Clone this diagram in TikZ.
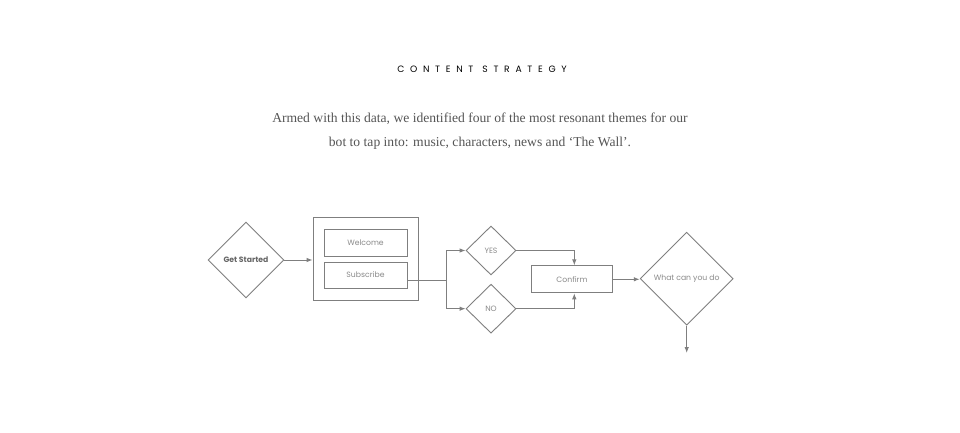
\documentclass[tikz,border=0pt]{standalone}
\usepackage{fontspec}
\setmainfont{Liberation Serif}
\newfontfamily\pop{Poppins}
\newfontfamily\poptitle[LetterSpace=62]{Poppins}
\usetikzlibrary{shapes.geometric,arrows.meta}
\definecolor{ln}{HTML}{7F7F7F}
\definecolor{tx}{HTML}{8A8A8A}
\definecolor{body}{HTML}{555555}
\tikzset{
  shp/.style={draw=ln, line width=0.9pt, inner sep=0pt, font=\pop\fontsize{7.7}{9}\selectfont, text=tx},
  dia/.style={shp, diamond, aspect=1},
  box/.style={shp, rectangle},
  conn/.style={draw=ln, line width=0.9pt},
  arr/.style={conn, -{Latex[length=6pt,width=4.5pt]}},
}
\begin{document}
\begin{tikzpicture}[x=1pt,y=-1pt]
\useasboundingbox[fill=white] (0,0) rectangle (960,433);
\node[font=\poptitle\fontsize{9.2}{10}\selectfont, text=black] (title) at (482,69) {CONTENT\hspace*{9pt}STRATEGY};
\node[font=\fontsize{13.6}{16}\selectfont, text=body] (l1) at (480,118.5) {Armed with this data, we identified four of the most resonant themes for our};
\node[font=\fontsize{13.6}{16}\selectfont, text=body] (l2) at (480,143.5) {bot to tap into: music, characters, news and ‘The Wall’.};

\node[dia, minimum width=76, minimum height=76, text=black!60] (gs) at (246,260) {\bfseries Get Started};
\node[box, minimum width=105, minimum height=83] (outer) at (365.5,258.5) {};
\node[box, minimum width=83, minimum height=27] (wel) at (365.5,242.5) {Welcome};
\node[box, minimum width=83, minimum height=26] (sub) at (365.5,275) {Subscribe};
\node[dia, minimum width=50, minimum height=49] (yes) at (491,250.5) {YES};
\node[dia, minimum width=50, minimum height=49] (no) at (491,308.7) {NO};
\node[box, minimum width=81, minimum height=27] (conf) at (572,279.3) {Confirm};
\node[dia, minimum width=93, minimum height=93] (what) at (686.7,278.7) {What can you do};

\coordinate (split) at (446.7,280);
\coordinate (end) at (686.7,353);
\coordinate (cin) at (574.3,279.3);

\draw[arr] (gs.east) -- (gs.east -| outer.west);
\draw[conn] (sub.east |- split) -- (split);
\draw[arr] (split) |- (yes.west);
\draw[arr] (split) |- (no.west);
\draw[arr] (yes.east) -| (cin |- conf.north);
\draw[arr] (no.east) -| (cin |- conf.south);
\draw[arr] (conf.east) -- (conf.east -| what.west);
\draw[arr] (what.south) -- (end);
\end{tikzpicture}
\end{document}
